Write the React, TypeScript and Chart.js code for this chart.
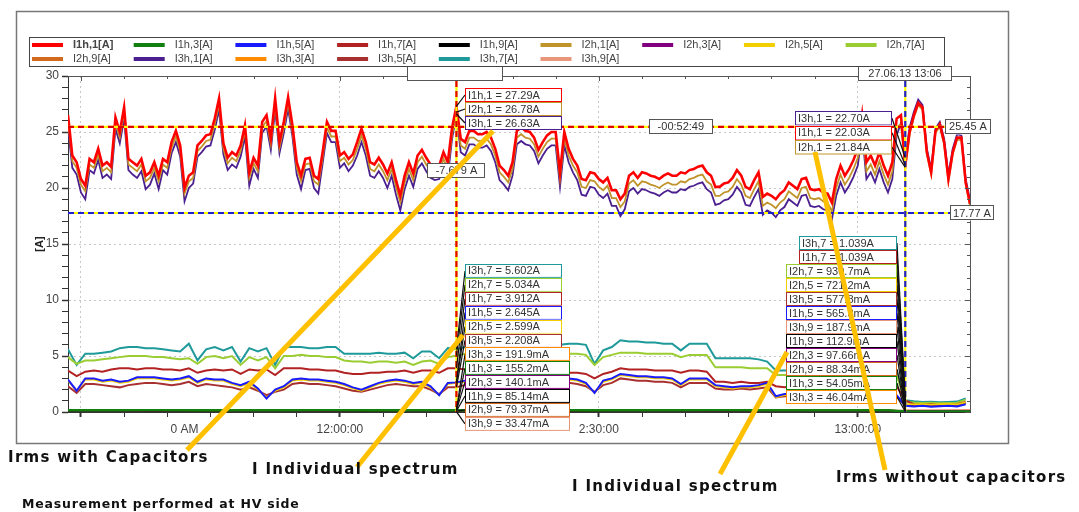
import React, { useEffect, useRef } from 'react';
import { Chart, registerables } from 'chart.js';

Chart.register(...registerables);

const FONT = '"Liberation Sans", Arial, sans-serif';
const CAPTION_FONT = '"DejaVu Sans", Verdana, sans-serif';

// ---- axes (x in minutes after midnight) ----
const X_MIN = 688.5;
const X_MAX = 793;
const X_TICKS = [690, 695, 700, 702, 705, 710, 715, 720, 725, 730, 735, 740, 745, 750, 755, 760, 765, 770, 775, 780, 785, 790];
const X_TICK_LABELS: Record<number, string> = { 702: '0 AM', 720: '12:00:00', 750: '2:30:00', 780: '13:00:00' };
const X_GRID = [690, 720, 750, 780];
const Y_TICKS = [0, 1, 2, 3, 4, 5, 6, 7, 8, 9, 10, 11, 12, 13, 14, 15, 16, 17, 18, 19, 20, 21, 22, 23, 24, 25, 26, 27, 28, 29, 30];

// ---- fundamental currents, one sample every 0.5 min from 11:28:30 ----
const FUND_START = 688.5;
const FUND_STEP = 0.5;
const I1H1 = [
  26.5, 22.9, 22.3, 20.8, 20.2, 22.6, 22.3, 23.5, 22.0, 22.3,
  21.9, 26.3, 25.0, 27.2, 22.6, 22.3, 22.0, 22.6, 21.1, 21.4,
  22.3, 21.1, 22.6, 22.3, 24.1, 25.1, 23.8, 20.0, 21.1, 21.4,
  23.8, 24.2, 24.7, 24.8, 26.2, 28.0, 24.0, 22.7, 23.2, 22.9,
  23.8, 25.6, 21.4, 22.7, 22.0, 25.9, 26.5, 24.4, 28.0, 24.1,
  25.9, 28.1, 25.6, 22.3, 21.1, 22.6, 22.7, 21.1, 20.8, 23.2,
  25.9, 25.1, 25.1, 22.9, 23.2, 22.6, 23.0, 24.1, 25.3, 24.1,
  22.3, 22.1, 22.7, 22.1, 21.3, 22.3, 20.7, 19.3, 21.1, 22.3,
  21.3, 22.9, 23.4, 22.7, 22.1, 21.9, 22.0, 23.2, 22.3, 25.4,
  27.3, 24.4, 24.1, 25.1, 25.1, 24.8, 24.8, 25.0, 24.5, 23.5,
  22.0, 21.6, 21.1, 22.3, 25.1, 25.4, 25.1, 25.0, 24.5, 23.4,
  24.1, 24.7, 25.0, 25.0, 21.4, 25.0, 23.5, 22.6, 22.0, 20.8,
  20.7, 21.4, 21.3, 20.8, 20.5, 20.9, 19.8, 19.8, 19.0, 19.5,
  21.1, 21.4, 20.9, 21.4, 21.3, 21.1, 21.0, 20.8, 21.1, 21.3,
  21.1, 21.1, 21.4, 21.3, 21.6, 21.7, 21.9, 22.0, 21.4, 21.1,
  20.1, 20.1, 20.4, 20.5, 20.9, 21.6, 21.1, 20.1, 19.9, 20.7,
  21.4, 19.2, 19.5, 19.3, 19.0, 19.5, 19.8, 20.5, 20.2, 19.9,
  20.8, 20.9, 19.9, 19.8, 19.9, 19.6, 19.5, 18.7, 20.8, 22.0,
  21.1, 21.7, 22.5, 23.5, 26.5, 22.3, 22.9, 22.0, 23.2, 22.0,
  21.1, 22.3, 26.2, 26.5, 22.0, 25.0, 26.5, 27.6, 27.2, 23.2,
  21.4, 25.1, 25.7, 24.1, 20.8, 23.2, 24.5, 24.5, 20.5, 18.6,
];
const I2H1 = [
  26.0, 22.4, 21.8, 20.3, 19.7, 22.1, 21.8, 23.0, 21.5, 21.8,
  21.4, 25.8, 24.5, 26.7, 22.1, 21.8, 21.5, 22.1, 20.6, 20.9,
  21.8, 20.6, 22.1, 21.8, 23.6, 24.6, 23.3, 19.5, 20.6, 20.9,
  23.3, 23.7, 24.2, 24.3, 25.7, 27.5, 23.5, 22.2, 22.7, 22.4,
  23.3, 25.1, 20.9, 22.2, 21.5, 25.4, 26.0, 23.9, 27.5, 23.6,
  25.4, 27.6, 25.1, 21.8, 20.6, 22.1, 22.2, 20.6, 20.3, 22.7,
  25.4, 24.6, 24.6, 22.4, 22.7, 22.1, 22.5, 23.5, 24.7, 23.5,
  21.7, 21.5, 22.1, 21.5, 20.7, 21.7, 20.1, 18.7, 20.5, 21.7,
  20.7, 22.3, 22.8, 22.1, 21.5, 21.3, 21.4, 22.6, 21.7, 24.8,
  26.8, 23.8, 23.5, 24.5, 24.5, 24.2, 24.2, 24.4, 23.9, 22.9,
  21.4, 21.0, 20.5, 21.7, 24.5, 24.8, 24.5, 24.4, 23.9, 22.8,
  23.5, 24.1, 24.4, 24.4, 20.8, 24.4, 22.9, 22.0, 21.4, 20.1,
  20.0, 20.7, 20.6, 20.1, 19.8, 20.2, 19.1, 19.1, 18.3, 18.8,
  20.4, 20.7, 20.2, 20.6, 20.5, 20.3, 20.2, 20.0, 20.3, 20.5,
  20.3, 20.3, 20.6, 20.5, 20.8, 20.9, 21.1, 21.2, 20.6, 20.3,
  19.3, 19.3, 19.6, 19.7, 20.1, 20.8, 20.3, 19.3, 19.1, 19.9,
  20.6, 18.4, 18.7, 18.5, 18.2, 18.7, 19.0, 19.7, 19.4, 19.1,
  20.0, 20.1, 19.1, 19.0, 19.1, 18.8, 18.7, 17.9, 20.0, 21.2,
  20.3, 20.9, 21.7, 22.7, 25.7, 21.5, 22.1, 21.2, 22.4, 21.2,
  20.3, 21.5, 25.4, 25.7, 21.8, 24.8, 26.3, 27.4, 27.0, 23.0,
  21.2, 24.9, 25.5, 23.9, 20.6, 23.0, 24.3, 24.3, 20.3, 18.4,
];
const I3H1 = [
  25.4, 21.8, 21.2, 19.6, 19.0, 21.6, 21.3, 22.5, 20.9, 21.2,
  20.8, 25.3, 24.0, 26.2, 21.6, 21.2, 20.9, 21.5, 19.9, 20.3,
  21.3, 19.9, 21.6, 21.2, 23.1, 24.1, 22.8, 18.8, 20.0, 20.4,
  22.8, 23.2, 23.7, 23.8, 25.2, 27.0, 23.0, 21.6, 22.1, 21.8,
  22.8, 24.6, 20.2, 21.7, 20.9, 24.9, 25.5, 23.4, 27.0, 23.1,
  24.9, 27.1, 24.6, 21.2, 19.9, 21.6, 21.7, 20.0, 19.5, 22.2,
  24.9, 24.1, 24.1, 21.8, 22.2, 21.5, 22.0, 22.9, 24.1, 22.9,
  21.1, 20.9, 21.5, 20.9, 20.0, 21.1, 19.4, 18.0, 19.9, 21.1,
  20.1, 21.7, 22.2, 21.5, 20.9, 20.7, 20.8, 22.0, 21.0, 24.4,
  26.6, 23.2, 22.9, 23.9, 23.9, 23.6, 23.6, 23.8, 23.3, 22.3,
  20.7, 20.3, 19.8, 21.1, 23.9, 24.2, 23.9, 23.8, 23.3, 22.2,
  22.9, 23.5, 23.8, 23.8, 20.1, 23.8, 22.3, 21.4, 20.7, 19.4,
  19.3, 20.1, 20.0, 19.4, 19.1, 19.5, 18.4, 18.4, 17.5, 18.1,
  19.7, 20.0, 19.5, 19.9, 19.8, 19.6, 19.5, 19.3, 19.6, 19.8,
  19.6, 19.6, 19.9, 19.8, 20.1, 20.2, 20.4, 20.5, 19.9, 19.6,
  18.5, 18.6, 18.9, 19.0, 19.4, 20.1, 19.6, 18.5, 18.4, 19.2,
  19.9, 17.6, 18.0, 17.8, 17.4, 18.0, 18.3, 19.0, 18.7, 18.4,
  19.3, 19.4, 18.4, 18.3, 18.4, 18.1, 18.0, 17.2, 19.3, 20.5,
  19.6, 20.2, 21.0, 22.0, 25.0, 20.8, 21.4, 20.5, 21.7, 20.5,
  19.6, 20.8, 24.7, 25.8, 22.7, 25.4, 26.8, 27.9, 27.4, 23.5,
  21.7, 25.3, 25.9, 24.4, 21.2, 23.5, 24.8, 24.7, 20.8, 18.9,
];

// ---- 5th / 7th harmonics, one sample per minute from 11:28:30 ----
const HARM_START = 688.5;
const HARM_STEP = 1;
const I3H7 = [
  5.6, 4.2, 5.2, 5.2, 5.3, 5.4, 5.7, 5.8, 5.8, 5.7,
  5.7, 5.6, 5.5, 5.4, 6.1, 4.6, 5.6, 5.8, 5.5, 5.8,
  4.5, 5.7, 5.4, 5.7, 4.2, 5.8, 5.8, 5.8, 5.7, 5.7,
  5.8, 5.8, 5.2, 5.2, 5.2, 5.2, 5.3, 5.2, 5.2, 5.3,
  4.8, 5.4, 5.4, 4.8, 5.7, 5.6, 5.8, 5.9, 5.8, 5.9,
  5.8, 5.9, 6.0, 5.9, 5.9, 6.0, 5.9, 6.0, 6.1, 6.1,
  6.0, 4.3, 5.5, 5.8, 6.4, 6.3, 6.3, 6.2, 6.2, 6.1,
  6.1, 5.5, 6.1, 6.1, 6.1, 4.8, 4.8, 4.8, 4.8, 4.8,
  4.7, 4.5, 3.7, 3.7, 3.7, 3.8, 3.7, 3.8, 3.7, 3.8,
  3.8, 3.7, 3.8, 3.7, 3.8, 3.8, 3.7, 1.04, 0.95, 0.9,
  0.92, 0.88, 0.9, 0.93, 1.2,
];
const I2H7 = [
  4.9, 4.3, 4.6, 4.6, 4.7, 4.8, 4.9, 5.0, 5.0, 5.0,
  4.9, 4.9, 4.8, 4.7, 4.8, 4.3, 4.9, 5.0, 4.8, 5.0,
  4.2, 4.9, 4.6, 4.9, 3.9, 5.0, 5.0, 5.1, 5.0, 5.0,
  4.9, 4.9, 4.6, 4.5, 4.5, 4.4, 4.5, 4.5, 4.4, 4.5,
  4.2, 4.5, 4.6, 4.3, 4.9, 5.03, 5.2, 5.1, 5.2, 5.2,
  5.1, 5.2, 5.3, 5.2, 5.2, 5.3, 5.2, 5.2, 5.2, 5.2,
  5.1, 4.2, 4.9, 5.1, 5.3, 5.3, 5.3, 5.2, 5.2, 5.2,
  5.2, 4.9, 5.1, 5.1, 5.1, 4.0, 4.0, 4.0, 4.0, 3.9,
  3.9, 3.9, 3.3, 3.3, 3.3, 3.4, 3.3, 3.3, 3.4, 3.3,
  3.3, 3.4, 3.3, 3.3, 3.4, 3.3, 3.3, 0.93, 0.85, 0.8,
  0.82, 0.78, 0.8, 0.83, 1.1,
];
const I1H7 = [
  3.7, 3.2, 3.6, 3.7, 3.6, 3.8, 3.9, 3.9, 3.8, 3.9,
  3.9, 3.8, 3.8, 3.7, 3.9, 3.5, 3.7, 3.8, 3.7, 3.8,
  3.4, 3.8, 3.7, 3.8, 3.3, 3.9, 3.9, 3.9, 3.8, 3.8,
  3.7, 3.7, 3.5, 3.4, 3.4, 3.5, 3.5, 3.6, 3.6, 3.7,
  3.5, 3.7, 3.7, 3.5, 3.9, 3.91, 3.8, 3.8, 3.9, 3.8,
  3.8, 3.9, 3.8, 3.8, 3.9, 3.8, 3.8, 3.6, 3.5, 3.5,
  3.4, 3.0, 3.4, 3.6, 3.9, 3.8, 3.8, 3.8, 3.7, 3.7,
  3.7, 3.5, 3.7, 3.7, 3.6, 2.7, 2.7, 2.6, 2.7, 2.6,
  2.6, 2.7, 2.3, 2.2, 2.3, 2.2, 2.3, 2.3, 2.2, 2.3,
  2.3, 2.2, 2.3, 2.3, 2.2, 2.3, 2.3, 1.04, 0.7, 0.65,
  0.7, 0.62, 0.66, 0.7, 0.9,
];
const I1H5 = [
  2.9, 1.9, 3.0, 3.0, 2.8, 2.9, 2.7, 2.8, 3.1, 3.1,
  3.1, 3.0, 2.9, 3.0, 3.2, 2.7, 3.0, 2.9, 2.9, 2.6,
  2.4, 2.7, 2.1, 1.2, 2.0, 2.3, 2.9, 3.0, 2.9, 2.9,
  2.8, 2.7, 2.5, 2.2, 2.0, 2.3, 2.6, 2.8, 2.9, 2.8,
  2.6, 2.7, 2.3, 1.5, 2.6, 2.645, 2.8, 2.9, 2.8, 2.9,
  3.0, 2.9, 2.8, 2.9, 3.0, 2.9, 2.8, 2.9, 3.0, 2.9,
  2.6, 1.7, 2.8, 3.0, 3.4, 3.3, 3.2, 3.2, 3.1, 3.1,
  3.0, 2.5, 3.0, 3.0, 3.0, 2.4, 2.3, 2.2, 2.3, 2.3,
  2.4, 2.6, 1.4, 1.6, 1.6, 1.5, 1.6, 1.6, 1.5, 1.6,
  1.6, 1.5, 1.6, 1.6, 1.5, 1.6, 1.5, 0.565, 0.5, 0.55,
  0.48, 0.52, 0.55, 0.5, 0.7,
];
const I2H5 = [
  2.8, 1.9, 2.9, 2.9, 2.7, 2.8, 2.6, 2.7, 3.0, 3.0,
  3.0, 2.9, 2.8, 2.9, 3.1, 2.6, 2.9, 2.8, 2.8, 2.5,
  2.3, 2.6, 2.0, 1.3, 1.9, 2.2, 2.8, 2.9, 2.8, 2.8,
  2.7, 2.6, 2.4, 2.1, 1.9, 2.2, 2.5, 2.7, 2.8, 2.7,
  2.5, 2.6, 2.2, 1.5, 2.5, 2.599, 2.7, 2.8, 2.7, 2.8,
  2.9, 2.8, 2.7, 2.8, 2.9, 2.8, 2.7, 2.8, 2.9, 2.8,
  2.5, 1.7, 2.7, 2.9, 3.3, 3.2, 3.1, 3.1, 3.0, 3.0,
  2.9, 2.4, 2.9, 2.9, 2.9, 2.3, 2.2, 2.1, 2.2, 2.2,
  2.3, 2.5, 1.3, 1.5, 1.5, 1.4, 1.5, 1.5, 1.4, 1.5,
  1.5, 1.4, 1.5, 1.5, 1.4, 1.5, 1.4, 0.72, 0.68, 0.7,
  0.66, 0.7, 0.72, 0.68, 0.85,
];
const I3H5 = [
  2.3, 1.7, 2.5, 2.5, 2.4, 2.3, 2.2, 2.4, 2.5, 2.6,
  2.6, 2.5, 2.4, 2.5, 2.7, 2.3, 2.5, 2.4, 2.3, 2.2,
  2.0, 2.2, 1.9, 1.5, 1.8, 2.0, 2.5, 2.6, 2.5, 2.5,
  2.4, 2.3, 2.1, 1.9, 1.8, 2.0, 2.2, 2.4, 2.5, 2.4,
  2.3, 2.3, 2.0, 1.6, 2.2, 2.208, 2.4, 2.5, 2.4, 2.5,
  2.5, 2.4, 2.4, 2.5, 2.5, 2.4, 2.4, 2.5, 2.6, 2.5,
  2.3, 1.8, 2.4, 2.6, 3.0, 2.9, 2.8, 2.8, 2.7, 2.7,
  2.6, 2.2, 2.6, 2.6, 2.6, 2.1, 2.0, 2.0, 2.1, 2.0,
  2.1, 2.2, 1.3, 1.4, 1.4, 1.3, 1.4, 1.4, 1.3, 1.4,
  1.4, 1.3, 1.4, 1.4, 1.3, 1.4, 1.4, 0.578, 0.55, 0.6,
  0.58, 0.62, 0.57, 0.6, 0.8,
];

// ---- 3rd / 9th harmonics (near zero) ----
const LOW_TIMES = [688.5, 693.5, 698.5, 703.5, 708.5, 713.5, 718.5, 723.5, 728.5, 733.5, 738.5, 743.5, 748.5, 753.5, 758.5, 763.5, 768.5, 773.5, 778.5, 783.5, 785.5, 788.5, 793];
const I1H3 = [0.16, 0.15, 0.17, 0.16, 0.15, 0.16, 0.17, 0.16, 0.15, 0.155, 0.16, 0.17, 0.16, 0.15, 0.16, 0.17, 0.16, 0.15, 0.16, 0.16, 0.054, 0.05, 0.06];
const I2H3 = [0.13, 0.14, 0.13, 0.15, 0.14, 0.13, 0.14, 0.15, 0.14, 0.14, 0.13, 0.14, 0.15, 0.14, 0.13, 0.14, 0.14, 0.13, 0.14, 0.13, 0.098, 0.09, 0.1];
const I3H3 = [0.19, 0.2, 0.18, 0.19, 0.2, 0.19, 0.18, 0.19, 0.2, 0.19, 0.18, 0.19, 0.2, 0.19, 0.18, 0.19, 0.2, 0.19, 0.18, 0.19, 0.046, 0.05, 0.045];
const I1H9 = [0.08, 0.09, 0.085, 0.08, 0.09, 0.085, 0.08, 0.09, 0.085, 0.085, 0.09, 0.08, 0.085, 0.09, 0.08, 0.085, 0.09, 0.08, 0.085, 0.09, 0.113, 0.11, 0.12];
const I2H9 = [0.075, 0.08, 0.078, 0.082, 0.076, 0.08, 0.079, 0.077, 0.081, 0.079, 0.08, 0.076, 0.079, 0.082, 0.078, 0.08, 0.077, 0.081, 0.079, 0.08, 0.088, 0.09, 0.085];
const I3H9 = [0.035, 0.03, 0.034, 0.032, 0.036, 0.033, 0.031, 0.035, 0.034, 0.033, 0.032, 0.036, 0.034, 0.031, 0.035, 0.033, 0.034, 0.032, 0.035, 0.034, 0.188, 0.18, 0.19];

// ---- cursors & measurements ----
const CURSOR1 = 733.5;
const CURSOR2 = 785.5;
const LEVEL_HI = 25.45;
const LEVEL_LO = 17.77;
const LEVEL_HI_LABEL = '25.45 A';
const LEVEL_LO_LABEL = '17.77 A';
const DELTA_Y_LABEL = '-7.679 A';
const DELTA_T_LABEL = '-00:52:49';
const CURSOR2_TIME_LABEL = '27.06.13 13:06';

const C1_FUND_NAMES = ['I1h,1', 'I2h,1', 'I3h,1'];
const C1_FUND_VALUES = [27.29, 26.78, 26.63];
const C2_FUND_NAMES = ['I3h,1', 'I1h,1', 'I2h,1'];
const C2_FUND_VALUES = [22.70, 22.03, 21.84];
const C1_HARM_NAMES = ['I3h,7', 'I2h,7', 'I1h,7', 'I1h,5', 'I2h,5', 'I3h,5', 'I3h,3', 'I1h,3', 'I2h,3', 'I1h,9', 'I2h,9', 'I3h,9'];
const C1_HARM_VALUES = [5.602, 5.034, 3.912, 2.645, 2.599, 2.208, 0.1919, 0.1552, 0.1401, 0.08514, 0.07937, 0.03347];
const C2_HARM_NAMES = ['I3h,7', 'I1h,7', 'I2h,7', 'I2h,5', 'I3h,5', 'I1h,5', 'I3h,9', 'I1h,9', 'I2h,3', 'I2h,9', 'I1h,3', 'I3h,3'];
const C2_HARM_VALUES = [1.039, 1.039, 0.9307, 0.7212, 0.5778, 0.5653, 0.1879, 0.1129, 0.09766, 0.08834, 0.05405, 0.04604];

const LEGEND_ORDER = ['I1h,1', 'I1h,3', 'I1h,5', 'I1h,7', 'I1h,9', 'I2h,1', 'I2h,3', 'I2h,5', 'I2h,7', 'I2h,9', 'I3h,1', 'I3h,3', 'I3h,5', 'I3h,7', 'I3h,9'];

const COLORS: Record<string, string> = {
  'I1h,1': '#ff0000', 'I1h,3': '#12800f', 'I1h,5': '#1a1aff', 'I1h,7': '#b22222', 'I1h,9': '#000000',
  'I2h,1': '#c0942a', 'I2h,3': '#800080', 'I2h,5': '#f2d000', 'I2h,7': '#9acd32', 'I2h,9': '#d2691e',
  'I3h,1': '#4b1f8f', 'I3h,3': '#ff8c00', 'I3h,5': '#a83030', 'I3h,7': '#1f9a9a', 'I3h,9': '#e9967a',
};

const regular = (vals: number[], start: number, step: number) => vals.map((v, i) => ({ x: start + step * i, y: v }));
const timed = (vals: number[], times: number[]) => vals.map((v, i) => ({ x: times[i], y: v }));

const SERIES: [string, { x: number; y: number }[], number][] = [
  ['I1h,1', regular(I1H1, FUND_START, FUND_STEP), 2.6],
  ['I2h,1', regular(I2H1, FUND_START, FUND_STEP), 1.8],
  ['I3h,1', regular(I3H1, FUND_START, FUND_STEP), 1.8],
  ['I1h,5', regular(I1H5, HARM_START, HARM_STEP), 2],
  ['I2h,5', regular(I2H5, HARM_START, HARM_STEP), 1.8],
  ['I1h,7', regular(I1H7, HARM_START, HARM_STEP), 2],
  ['I3h,5', regular(I3H5, HARM_START, HARM_STEP), 2],
  ['I2h,7', regular(I2H7, HARM_START, HARM_STEP), 2],
  ['I3h,7', regular(I3H7, HARM_START, HARM_STEP), 2],
  ['I1h,3', timed(I1H3, LOW_TIMES), 2.4],
  ['I2h,3', timed(I2H3, LOW_TIMES), 1.5],
  ['I3h,3', timed(I3H3, LOW_TIMES), 1.5],
  ['I1h,9', timed(I1H9, LOW_TIMES), 1.5],
  ['I2h,9', timed(I2H9, LOW_TIMES), 1.5],
  ['I3h,9', timed(I3H9, LOW_TIMES), 1.5],
];

const fmtValue = (v: number) => (v >= 1 ? v.toPrecision(4) + 'A' : (v * 1000).toPrecision(4) + 'mA');

function line(ctx: CanvasRenderingContext2D, x1: number, y1: number, x2: number, y2: number) {
  ctx.beginPath();
  ctx.moveTo(x1, y1);
  ctx.lineTo(x2, y2);
  ctx.stroke();
}

function twoTone(ctx: CanvasRenderingContext2D, x1: number, y1: number, x2: number, y2: number, color: string) {
  ctx.save();
  ctx.lineWidth = 2.2;
  ctx.strokeStyle = '#ffff00';
  ctx.setLineDash([]);
  line(ctx, x1, y1, x2, y2);
  ctx.strokeStyle = color;
  ctx.setLineDash([6, 4]);
  line(ctx, x1, y1, x2, y2);
  ctx.restore();
}

function boxText(ctx: CanvasRenderingContext2D, x: number, y: number, w: number, h: number, text: string, border: string, align = 'left') {
  ctx.save();
  ctx.fillStyle = '#ffffff';
  ctx.fillRect(x, y, w, h);
  ctx.strokeStyle = border;
  ctx.lineWidth = 1;
  ctx.setLineDash([]);
  ctx.strokeRect(Math.round(x) + 0.5, Math.round(y) + 0.5, w - 1, h - 1);
  if (text) {
    ctx.fillStyle = '#333333';
    ctx.font = `11px ${FONT}`;
    ctx.textBaseline = 'middle';
    ctx.textAlign = align as CanvasTextAlign;
    ctx.fillText(text, align === 'center' ? x + w / 2 : x + 3, y + h / 2 + 0.5);
  }
  ctx.restore();
}

function stack(
  ctx: CanvasRenderingContext2D, yScale: any, names: string[], values: number[], cursorPx: number,
  edge: number, top: number, rowH: number, side: 'right' | 'left', wA: number, wM: number,
) {
  const rows = names.map((n, i) => {
    const w = values[i] >= 1 ? wA : wM;
    const x = side === 'right' ? edge : edge - w;
    return { n, v: values[i], w, x, y: top + i * rowH };
  });
  ctx.save();
  ctx.strokeStyle = '#111111';
  ctx.lineWidth = 1.2;
  rows.forEach((r) => {
    const ex = side === 'right' ? r.x : r.x + r.w;
    line(ctx, ex, r.y + rowH / 2, cursorPx, yScale.getPixelForValue(r.v));
  });
  ctx.restore();
  rows.forEach((r) => boxText(ctx, r.x, r.y, r.w, rowH, `${r.n} = ${fmtValue(r.v)}`, COLORS[r.n]));
}

const overlay = {
  id: 'overlay',
  beforeDraw(chart: any) {
    const { ctx } = chart;
    ctx.save();
    ctx.fillStyle = '#ffffff';
    ctx.fillRect(0, 0, chart.width, chart.height);
    ctx.restore();
  },
  afterDraw(chart: any) {
    const { ctx, chartArea: a } = chart;
    const xs = chart.scales.x;
    const ys = chart.scales.y;

    // plot frame (top & right) with inward ticks
    ctx.save();
    ctx.strokeStyle = '#555555';
    ctx.lineWidth = 1;
    line(ctx, a.left, a.top + 0.5, a.right + 0.5, a.top + 0.5);
    line(ctx, a.right + 0.5, a.top, a.right + 0.5, a.bottom);
    X_TICKS.forEach((v) => {
      if (X_TICK_LABELS[v] && !X_GRID.includes(v)) return;
      const px = Math.round(xs.getPixelForValue(v)) + 0.5;
      line(ctx, px, a.top, px, a.top + (v % 30 === 0 ? 5 : 3));
    });
    Y_TICKS.forEach((v) => {
      const py = Math.round(ys.getPixelForValue(v)) + 0.5;
      line(ctx, a.right - (v % 5 === 0 ? 5 : 3), py, a.right, py);
    });
    ctx.restore();

    // cursors and level lines
    const c1 = xs.getPixelForValue(CURSOR1);
    const c2 = xs.getPixelForValue(CURSOR2);
    const yh = ys.getPixelForValue(LEVEL_HI);
    const yl = ys.getPixelForValue(LEVEL_LO);
    twoTone(ctx, a.left, yh, 946, yh, '#e00000');
    twoTone(ctx, a.left, yl, 951, yl, '#2222cc');
    twoTone(ctx, c1, 81, c1, a.bottom, '#e00000');
    twoTone(ctx, c2, 81, c2, a.bottom, '#2222cc');

    // measurement boxes
    boxText(ctx, 407, 66, 96, 15, '', '#555555');
    boxText(ctx, 858, 66, 94, 15, CURSOR2_TIME_LABEL, '#555555', 'center');
    boxText(ctx, c1 - 29, (yh + yl) / 2 - 7, 58, 15, DELTA_Y_LABEL, '#555555', 'center');
    boxText(ctx, (c1 + c2) / 2 - 32, yh - 7.5, 64, 15, DELTA_T_LABEL, '#555555', 'center');
    boxText(ctx, 945, yh - 7.5, 46, 15, LEVEL_HI_LABEL, '#555555', 'center');
    boxText(ctx, 950, yl - 7.5, 44, 15, LEVEL_LO_LABEL, '#555555', 'center');

    // cursor read-outs
    stack(ctx, ys, C1_FUND_NAMES, C1_FUND_VALUES, c1, 465, 88, 14, 'right', 97, 97);
    stack(ctx, ys, C2_FUND_NAMES, C2_FUND_VALUES, c2, 892, 111, 14.5, 'left', 97, 97);
    stack(ctx, ys, C1_HARM_NAMES, C1_HARM_VALUES, c1, 465, 264, 13.9, 'right', 97, 105);
    stack(ctx, ys, C2_HARM_NAMES, C2_HARM_VALUES, c2, 897, 236, 14, 'left', 98, 111);

    // outer frame
    ctx.save();
    ctx.strokeStyle = '#777777';
    ctx.lineWidth = 1.5;
    ctx.strokeRect(16.5, 11.5, 992, 432);
    ctx.restore();

    // legend
    ctx.save();
    ctx.fillStyle = '#ffffff';
    ctx.fillRect(29, 37, 915, 29);
    ctx.strokeStyle = '#444444';
    ctx.lineWidth = 1;
    ctx.strokeRect(29.5, 37.5, 915, 29);
    ctx.textBaseline = 'middle';
    ctx.textAlign = 'left';
    LEGEND_ORDER.forEach((name, i) => {
      const col = i % 9;
      const row = Math.floor(i / 9);
      const x0 = 32 + col * 101.7;
      const y0 = row === 0 ? 45 : 59;
      const ds = chart.data.datasets.find((d: any) => d.label === `${name}[A]`);
      ctx.strokeStyle = ds ? ds.borderColor : '#000';
      ctx.lineWidth = 4;
      line(ctx, x0, y0, x0 + 31, y0);
      ctx.fillStyle = '#444444';
      ctx.font = i === 0 ? `bold 11px ${FONT}` : `11px ${FONT}`;
      ctx.fillText(`${name}[A]`, x0 + 41, y0);
    });
    ctx.restore();

    // highlight arrows
    ctx.save();
    ctx.strokeStyle = '#ffc000';
    ctx.lineWidth = 5;
    ctx.lineCap = 'butt';
    line(ctx, 187, 450, 493, 131);
    line(ctx, 357, 467, 463, 335);
    line(ctx, 720, 474, 787, 352);
    line(ctx, 815, 152, 885, 470);
    ctx.restore();

    // captions
    ctx.save();
    ctx.fillStyle = '#111111';
    ctx.textBaseline = 'middle';
    ctx.textAlign = 'left';
    ctx.font = `bold 15px ${CAPTION_FONT}`;
    (ctx as any).letterSpacing = '1.3px';
    ctx.fillText('Irms with Capacitors', 8, 458);
    ctx.fillText('I Individual spectrum', 252, 470);
    ctx.fillText('I Individual spectrum', 572, 487);
    ctx.fillText('Irms without capacitors', 836, 478);
    ctx.font = `bold 12.5px ${CAPTION_FONT}`;
    (ctx as any).letterSpacing = '0.8px';
    ctx.fillText('Measurement performed at HV side', 22, 505);
    ctx.restore();
  },
};

export default function App() {
  const ref = useRef<HTMLCanvasElement>(null);
  useEffect(() => {
    if (!ref.current) return;
    Chart.defaults.font.family = FONT;
    const chart = new Chart(ref.current, {
      type: 'line',
      data: {
        datasets: SERIES.map(([name, data, width]) => ({
          label: `${name}[A]`,
          data,
          borderColor: COLORS[name],
          backgroundColor: COLORS[name],
          borderWidth: width,
          pointRadius: 0,
          tension: 0,
          fill: false,
        })),
      },
      options: {
        animation: false,
        responsive: false,
        devicePixelRatio: 1,
        events: [],
        layout: { padding: { left: 0, top: 76, right: 109, bottom: 0 } },
        plugins: { legend: { display: false }, tooltip: { enabled: false }, title: { display: false } },
        scales: {
          x: {
            type: 'linear',
            min: X_MIN,
            max: X_MAX,
            afterBuildTicks: (s: any) => { s.ticks = X_TICKS.map((v) => ({ value: v })); },
            afterFit: (s: any) => { s.height = 100; },
            ticks: {
              autoSkip: false,
              maxRotation: 0,
              minRotation: 0,
              padding: 5,
              color: '#444444',
              font: { size: 12, family: FONT },
              callback: (v: any) => X_TICK_LABELS[v] ?? '',
            },
            grid: {
              color: (c: any) => (c.tick && X_GRID.includes(c.tick.value) ? '#c8c8c8' : 'rgba(0,0,0,0)'),
              tickColor: (c: any) => (c.tick && c.tick.value === 702 ? 'rgba(0,0,0,0)' : '#333333'),
              tickWidth: (c: any) => (c.tick && c.tick.value % 30 === 0 ? 2 : 1),
              tickLength: 5,
            },
            border: { color: '#333333', width: 1, dash: [2, 3] },
          },
          y: {
            type: 'linear',
            min: 0,
            max: 30,
            afterBuildTicks: (s: any) => { s.ticks = Y_TICKS.map((v) => ({ value: v })); },
            afterFit: (s: any) => { s.width = 68; },
            ticks: {
              autoSkip: false,
              padding: 3,
              color: '#444444',
              font: { size: 12, family: FONT },
              callback: (v: any) => (v % 5 === 0 ? String(v) : ''),
            },
            grid: {
              color: (c: any) => (c.tick && c.tick.value % 5 === 0 && c.tick.value > 0 && c.tick.value < 30 ? '#c8c8c8' : 'rgba(0,0,0,0)'),
              tickColor: '#333333',
              tickWidth: (c: any) => (c.tick && c.tick.value % 5 === 0 ? 1.5 : 1),
              tickLength: 6,
            },
            border: { color: '#333333', width: 1, dash: [2, 3] },
            title: {
              display: true,
              text: '[A]',
              color: '#222222',
              font: { size: 11, weight: 'bold', family: FONT },
              padding: { top: 33, bottom: 0 },
            },
          },
        },
      },
      plugins: [overlay],
    } as any);
    return () => chart.destroy();
  }, []);
  return (
    <div style={{ position: 'absolute', left: 0, top: 0, width: 1079, height: 512, background: '#ffffff' }}>
      <canvas ref={ref} width={1079} height={512} style={{ display: 'block', width: 1079, height: 512 }} />
    </div>
  );
}
